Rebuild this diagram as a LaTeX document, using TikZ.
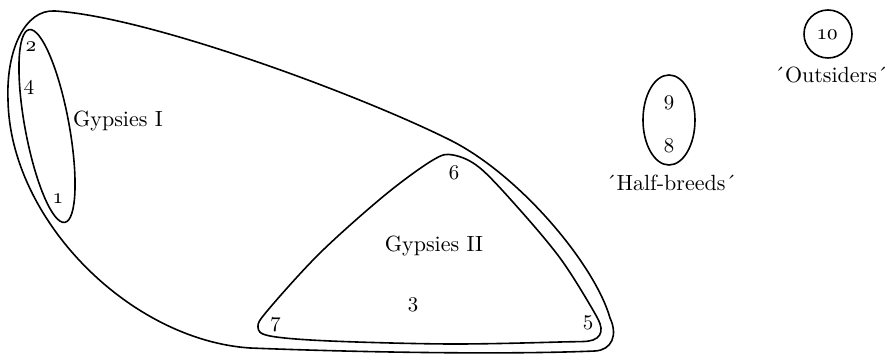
\documentclass[tikz,border=0pt]{standalone}
\usepackage{fontspec}
\setmainfont{Latin Modern Roman}[Numbers=OldStyle]

\begin{document}
\begin{tikzpicture}[x=0.5pt,y=-0.5pt]
  \useasboundingbox (0,0) rectangle (890,357);
  \tikzset{grp/.style={draw=black,line width=0.8pt,line join=round},
           lbl/.style={font=\fontsize{11}{13}\selectfont,inner sep=0pt},
           num/.style={font=\fontsize{10.5}{12}\selectfont,inner sep=0pt}}
  % loop round both gypsy groups
  \draw[grp] (55,11) .. controls (150,17) and (360,95) .. (450,140)
    .. controls (520,175) and (595,265) .. (610,318)
    .. controls (618,335) and (612,350) .. (595,351)
    .. controls (500,355) and (350,352) .. (250,348)
    .. controls (130,340) and (10,220) .. (8,100)
    .. controls (6,50) and (25,9) .. cycle;
  % Gypsies I
  \draw[grp,rotate around={10.5:(47,126)}] (47,126) ellipse [x radius=22,y radius=98];
  % Gypsies II
  \draw[grp] plot[smooth cycle,tension=0.55] coordinates {
    (453,155) (480,168) (520,210) (560,258) (590,305) (601,328)
    (593,340) (560,342) (450,344) (330,341) (270,336) (258,327)
    (268,310) (320,253) (385,195) (433,160)};
  % half-breeds and outsiders
  \draw[grp] (669,120) ellipse [x radius=26,y radius=45];
  \draw[grp] (828,34) circle [radius=24];

  \node[num] (n2) at (31,47) {2};
  \node[num] (n4) at (29,87) {4};
  \node[num] (n1) at (58,199) {1};
  \node[lbl] (gyI) at (118,121) {Gypsies I};
  \node[num] (n6) at (454,173) {6};
  \node[lbl] (gyII) at (434,246) {Gypsies II};
  \node[num] (n3) at (413,305) {3};
  \node[num] (n7) at (276,325) {7};
  \node[num] (n5) at (588,323) {5};
  \node[num] (n9) at (669,103) {9};
  \node[num] (n8) at (669,146) {8};
  \node[lbl] (half) at (671,183) {´Half-breeds´};
  \node[num] (n10) at (828,35) {10};
  \node[lbl] (outs) at (831,75) {´Outsiders´};
\end{tikzpicture}
\end{document}
